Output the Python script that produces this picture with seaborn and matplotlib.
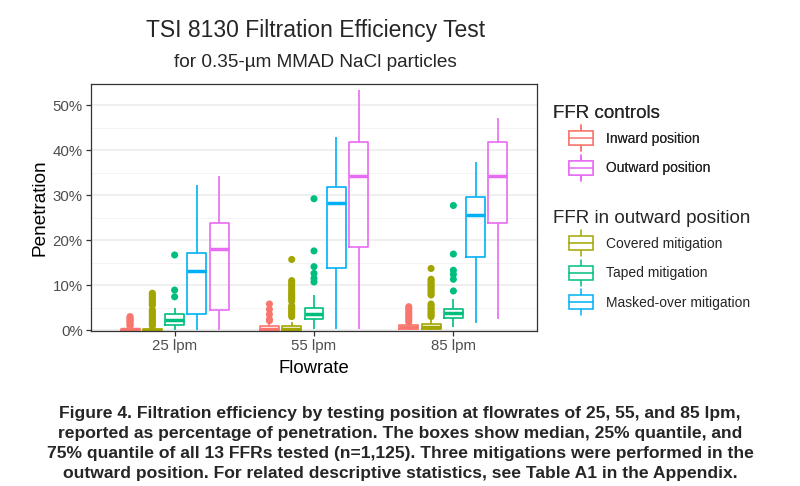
import numpy as np
import pandas as pd
import matplotlib
matplotlib.use("Agg")
import matplotlib.pyplot as plt
import seaborn as sns
from matplotlib.ticker import FuncFormatter, FixedLocator
from matplotlib.legend_handler import HandlerBase
from matplotlib.patches import Rectangle, Patch
from matplotlib.lines import Line2D

# ---------------- data ----------------
flowrates = ["25 lpm", "55 lpm", "85 lpm"]
positions = ["Inward position", "Covered mitigation", "Taped mitigation",
             "Masked-over mitigation", "Outward position"]
colors = ["#F8766D", "#A3A500", "#00BF7D", "#00B0F6", "#E76BF3"]

# five-number summaries per position, one value per flowrate (percent)
inward_stats = {"lo": [0.0, 0.0, 0.1], "q1": [0.05, 0.1, 0.2], "med": [0.15, 0.3, 0.6],
                "q3": [0.35, 0.9, 1.1], "hi": [0.7, 1.6, 1.5]}
covered_stats = {"lo": [0.0, 0.0, 0.1], "q1": [0.05, 0.1, 0.3], "med": [0.1, 0.3, 0.6],
                 "q3": [0.3, 0.9, 1.4], "hi": [0.7, 1.9, 2.2]}
taped_stats = {"lo": [0.1, 0.2, 0.7], "q1": [1.1, 2.4, 2.6], "med": [2.2, 3.6, 3.7],
               "q3": [3.5, 5.0, 4.8], "hi": [5.0, 7.8, 7.0]}
masked_stats = {"lo": [0.0, 0.2, 1.6], "q1": [3.6, 13.9, 16.2], "med": [13.1, 28.2, 25.6],
                "q3": [17.2, 31.9, 29.5], "hi": [32.3, 43.0, 37.4]}
outward_stats = {"lo": [0.0, 0.3, 2.4], "q1": [4.4, 18.4, 23.9], "med": [18.1, 34.3, 34.3],
                 "q3": [23.7, 41.8, 41.7], "hi": [34.3, 53.3, 47.1]}

# outliers per position, one list per flowrate (percent)
inward_outliers = [[0.9, 1.2, 1.5, 1.8, 2.1, 2.4, 2.7, 3.0],
                   [2.1, 2.4, 3.5, 4.6, 5.8],
                   [1.8, 2.3, 2.8, 3.3, 3.8, 4.3, 4.8, 5.2]]
covered_outliers = [[0.9, 1.3, 1.7, 2.1, 2.5, 2.9, 3.3, 3.7, 4.1, 4.5,
                     5.5, 5.9, 6.3, 6.7, 7.1, 7.5, 7.9, 8.2],
                    [3.0, 3.4, 3.8, 4.2, 4.6, 5.0, 5.4, 6.4, 6.9, 7.3, 7.7,
                     8.1, 8.5, 9.0, 9.5, 10.0, 10.5, 11.0, 15.7],
                    [3.0, 3.4, 3.8, 4.2, 4.6, 5.0, 5.4, 5.8, 7.8, 8.2, 8.6,
                     9.0, 9.4, 9.8, 10.2, 10.6, 11.0, 11.3, 13.7]]
taped_outliers = [[7.4, 8.9, 16.7],
                  [10.7, 11.5, 12.6, 14.1, 17.6, 29.2],
                  [8.7, 11.3, 12.4, 13.3, 16.9, 27.7]]
masked_outliers = [[], [], []]
outward_outliers = [[], [], []]

all_stats = [inward_stats, covered_stats, taped_stats, masked_stats, outward_stats]
all_outliers = [inward_outliers, covered_outliers, taped_outliers,
                masked_outliers, outward_outliers]

# ---------------- build tables for seaborn ----------------
box_rows, out_rows = [], []
for pos, st, outs in zip(positions, all_stats, all_outliers):
    for i, fr in enumerate(flowrates):
        # a sample whose quartiles/median/extremes equal the read summary
        sample = [st["lo"][i], st["q1"][i], st["q1"][i], st["med"][i],
                  st["q3"][i], st["q3"][i], st["hi"][i]]
        for v in sample:
            box_rows.append({"Flowrate": fr, "Position": pos, "Penetration": v})
        for v in outs[i]:
            out_rows.append({"Flowrate": fr, "Position": pos, "Penetration": v})
box_df = pd.DataFrame(box_rows)
out_df = pd.DataFrame(out_rows)
palette = dict(zip(positions, colors))

# ---------------- style ----------------
sns.set_style("white")
plt.rcParams["font.family"] = ["Liberation Sans", "DejaVu Sans"]

fig = plt.figure(figsize=(8, 4.86), dpi=100)
ax = fig.add_axes([91 / 800, 1 - 331 / 486, 446 / 800, 247 / 486])

sns.boxplot(data=box_df, x="Flowrate", y="Penetration", hue="Position",
            order=flowrates, hue_order=positions, palette=palette,
            fill=False, width=0.8, gap=0.15, whis=(0, 100), showcaps=False,
            linewidth=1.2, medianprops={"linewidth": 2.5},
            legend=False, ax=ax)
sns.stripplot(data=out_df, x="Flowrate", y="Penetration", hue="Position",
              order=flowrates, hue_order=positions, palette=palette,
              dodge=True, jitter=False, size=5.1, linewidth=0,
              legend=False, ax=ax, zorder=3)

ax.set_xlim(-0.6, 2.6)
ax.set_ylim(-0.2, 54.7)
ax.set_yticks([0, 10, 20, 30, 40, 50])
ax.yaxis.set_minor_locator(FixedLocator([5, 15, 25, 35, 45]))
ax.yaxis.set_major_formatter(FuncFormatter(lambda v, p: f"{v:.0f}%"))
ax.set_axisbelow(True)
ax.grid(which="major", axis="y", color="#EBEBEB", linewidth=1.1)
ax.grid(which="minor", axis="y", color="#F3F3F3", linewidth=0.7)
ax.grid(which="major", axis="x", visible=False)
for s in ax.spines.values():
    s.set_color("#333333")
    s.set_linewidth(0.9)
ax.tick_params(axis="both", which="major", length=3.5, width=0.9, color="#333333",
               labelsize=10.8, labelcolor="#4D4D4D", pad=2.5, left=True, bottom=True)
ax.tick_params(axis="y", which="minor", length=0)
ax.set_xlabel("Flowrate", fontsize=13.3, color="black", labelpad=5)
ax.set_ylabel("Penetration", fontsize=13.7, color="black", labelpad=3)

# ---------------- titles ----------------
fig.text(316 / 800, 1 - 37 / 486, "TSI 8130 Filtration Efficiency Test",
         ha="center", va="baseline", fontsize=16.5)
fig.text(315 / 800, 1 - 67 / 486, "for 0.35-\u00b5m MMAD NaCl particles",
         ha="center", va="baseline", fontsize=13.7)

# ---------------- legends ----------------
class BoxKeyHandler(HandlerBase):
    def create_artists(self, legend, orig_handle, xdescent, ydescent,
                       width, height, fontsize, trans):
        c = orig_handle.get_edgecolor()
        gw = 17.3
        x0 = -xdescent + width - gw
        y0 = -ydescent
        bh = 0.54 * height
        by = y0 + (height - bh) / 2
        xm = x0 + gw / 2
        ym = y0 + height / 2
        arts = [
            Line2D([xm, xm], [by + bh, y0 + height], color=c, lw=1.1, transform=trans),
            Line2D([xm, xm], [y0, by], color=c, lw=1.1, transform=trans),
            Rectangle((x0, by), gw, bh, facecolor="white", edgecolor=c, lw=1.1,
                      transform=trans),
            Line2D([x0, x0 + gw], [ym, ym], color=c, lw=1.1, transform=trans),
        ]
        return arts

leg_kw = dict(loc="upper left", bbox_transform=fig.transFigure, frameon=False,
              fontsize=10, title_fontsize=13.5, handlelength=2.9, handleheight=2.5,
              labelspacing=0.25, handletextpad=0.9, borderpad=0, borderaxespad=0,
              alignment="left", handler_map={Patch: BoxKeyHandler()})

h1 = [Patch(edgecolor=palette["Inward position"], facecolor="white"),
      Patch(edgecolor=palette["Outward position"], facecolor="white")]
leg1 = fig.legend(h1, ["Inward position", "Outward position"], title="FFR controls",
                  bbox_to_anchor=(553 / 800, 1 - 105 / 486), **leg_kw)
h2 = [Patch(edgecolor=palette["Covered mitigation"], facecolor="white"),
      Patch(edgecolor=palette["Taped mitigation"], facecolor="white"),
      Patch(edgecolor=palette["Masked-over mitigation"], facecolor="white")]
leg2 = fig.legend(h2, ["Covered mitigation", "Taped mitigation", "Masked-over mitigation"],
                  title="FFR in outward position",
                  bbox_to_anchor=(553 / 800, 1 - 210 / 486), **leg_kw)
fig.add_artist(leg1)

# ---------------- caption ----------------
caption = ("Figure 4. Filtration efficiency by testing position at flowrates of 25, 55, and 85 lpm,\n"
           "reported as percentage of penetration. The boxes show median, 25% quantile, and\n"
           "75% quantile of all 13 FFRs tested (n=1,125). Three mitigations were performed in the\n"
           "outward position. For related descriptive statistics, see Table A1 in the Appendix.")
fig.text(0.5, 1 - 443.5 / 486, caption, ha="center", va="center", multialignment="center",
         fontsize=12.6, fontweight="bold", linespacing=1.42,
         family=["Liberation Sans", "DejaVu Sans"])

fig.savefig("out.png", dpi=100)
